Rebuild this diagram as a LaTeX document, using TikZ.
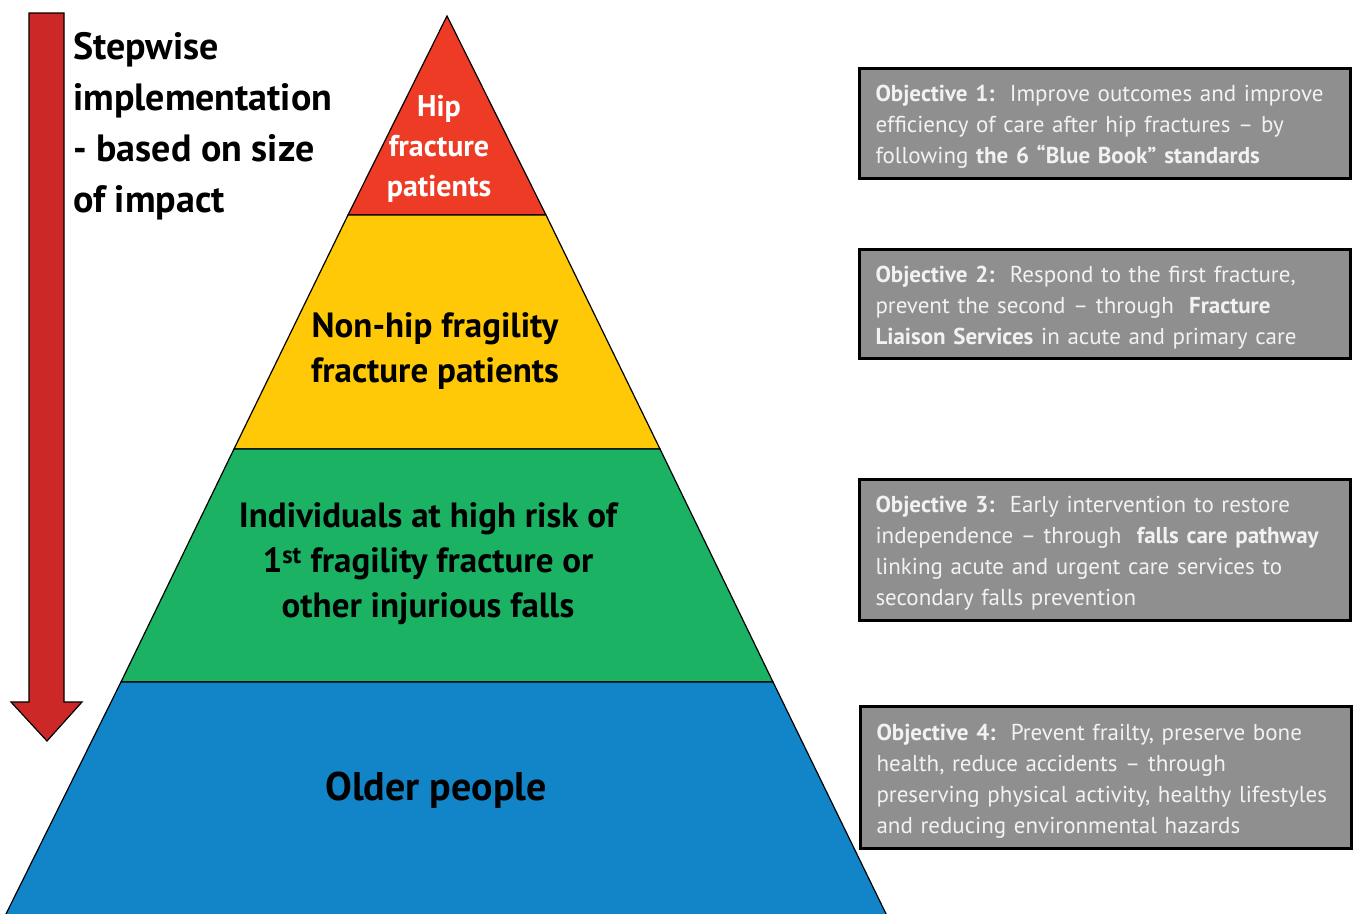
\documentclass[tikz,border=0pt]{standalone}
\usepackage{fontspec}
\setmainfont{PT Sans}
\definecolor{pyrred}{HTML}{EE3B26}
\definecolor{pyryellow}{HTML}{FFC907}
\definecolor{pyrgreen}{HTML}{1BB264}
\definecolor{pyrblue}{HTML}{1185C8}
\definecolor{arrred}{HTML}{CC2828}
\definecolor{boxgray}{HTML}{8F8F8F}
\definecolor{boxtext}{HTML}{F2F2F2}
\begin{document}
\begin{tikzpicture}[x=1pt,y=-1pt,
  band/.style={draw=black,line width=1.2pt},
  objbox/.style={draw=black,line width=3pt,fill=boxgray,anchor=north west,
    minimum width=491pt,inner sep=0pt},
  objtext/.style={inner xsep=0pt,inner ysep=0pt,text width=459pt,align=left,yshift=-3.5pt,
    text=boxtext,font=\fontsize{23}{31}\selectfont},
  pyrlabel/.style={font=\bfseries\fontsize{35}{45}\selectfont,align=center,text=black}
]
\useasboundingbox (0,0) rectangle (1359,913);
% pyramid bands
\path[band,fill=pyrred] (447,16) -- (546,215) -- (348,215) -- cycle;
\path[band,fill=pyryellow] (348,215) -- (546,215) -- (660,449) -- (234,449) -- cycle;
\path[band,fill=pyrgreen] (234,449) -- (660,449) -- (773,682) -- (121,682) -- cycle;
\path[band,fill=pyrblue] (121,682) -- (773,682) -- (889,920) -- (3,920) -- cycle;
% arrow
\path[fill=arrred,draw=black,line width=1.2pt] (29,13) -- (64,13) -- (64,702) -- (82,702) -- (47,741) -- (11,702) -- (29,702) -- cycle;
% title
\node[anchor=north west,align=left,inner sep=0pt,font=\bfseries\fontsize{38}{51}\selectfont] (title) at (73,32)
  {Stepwise\\implementation\\- based on size\\of impact};
% pyramid labels
\node[pyrlabel,text=white,font=\bfseries\fontsize{30}{40}\selectfont] (hip) at (439,149) {Hip\\fracture\\patients};
\node[pyrlabel] (nonhip) at (435,351) {Non-hip fragility\\fracture patients};
\node[pyrlabel] (risk) at (428,564) {Individuals at high risk of\\1\textsuperscript{st} fragility fracture or\\other injurious falls};
\node[pyrlabel,font=\bfseries\fontsize{40}{50}\selectfont] (older) at (436,790) {Older people};
% objective boxes
\node[objbox,minimum height=110pt] (obj1) at (858,67) {};
\node[objtext] (obj1t) at (obj1.center)
  {\textbf{Objective 1:}\ \ Improve outcomes and improve\\efficiency of care after hip fractures – by\\following \textbf{the 6 “Blue Book” standards}};
\node[objbox,minimum height=109pt] (obj2) at (858,248) {};
\node[objtext] (obj2t) at (obj2.center)
  {\textbf{Objective 2:}\ \ Respond to the first fracture,\\prevent the second – through\ \ \textbf{Fracture}\\\textbf{Liaison Services}\ in acute and primary care};
\node[objbox,minimum height=141pt] (obj3) at (858,478) {};
\node[objtext] (obj3t) at (obj3.center)
  {\textbf{Objective 3:}\ \ Early intervention to restore\\independence – through\ \ \textbf{falls care pathway}\\linking acute and urgent care services to\\secondary falls prevention};
\node[objbox,minimum height=142pt] (obj4) at (859,705) {};
\node[objtext] (obj4t) at (obj4.center)
  {\textbf{Objective 4:}\ \ Prevent frailty, preserve bone\\health, reduce accidents – through\\preserving physical activity, healthy lifestyles\\and reducing environmental hazards};
\end{tikzpicture}
\end{document}
